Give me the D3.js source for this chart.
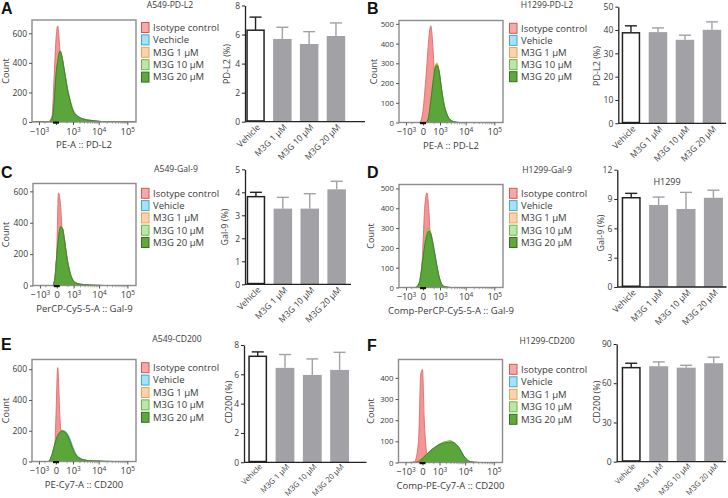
<!DOCTYPE html>
<html><head><meta charset="utf-8">
<script src="https://cdn.jsdelivr.net/npm/d3@7"></script>
<style>body{margin:0;background:#fff}svg{display:block}</style>
</head><body><svg id="c" width="728" height="498"></svg>
<script>
// ---------------- DATA ----------------
const treatments = ["Vehicle", "M3G 1 μM", "M3G 10 μM", "M3G 20 μM"];
const legendLabels = ["Isotype control", "Vehicle", "M3G 1 μM", "M3G 10 μM", "M3G 20 μM"];
const legendLabelsA = ["Isotype control", "Vechicle", "M3G 1 μM", "M3G 10 μM", "M3G 20 μM"];
const histXTicks = [-1000, 0, 1000, 10000, 100000];
const histXTickBase = ["−10", "0", "10", "10", "10"];
const histXTickExp = ["3", "", "3", "4", "5"];
const fluorGrid = [-2000,-700,-300,-130,-50,0,50,130,200,300,420,550,700,900,1150,1400,2000,2900,4000,5800,9500,15000,30000,200000];

// A549 PD-L2 histogram counts
const histA_iso   = [0,0,0,40,330,560,650,480,300,110,25,5,0,0,0,0,0,0,0,0,0,0,0,0];
const histA_veh   = [0,0,0,18,140,305,400,470,450,375,290,215,160,105,68,50,31,20,14,10,5,2,0,0];
const histA_m1    = [0,0,0,20,148,315,408,476,448,372,284,208,153,98,62,46,29,18,13,10,5,2,0,0];
const histA_m10   = [0,0,0,22,155,325,415,485,452,368,278,202,148,93,58,44,27,17,12,9,5,2,0,0];
const histA_m20   = [0,0,0,20,150,320,410,480,450,370,280,205,150,95,60,45,28,18,13,10,5,2,0,0];
// H1299 PD-L2
const histB_iso   = [0,0,0,0,15,60,150,300,420,490,380,200,100,45,18,6,0,0,0,0,0,0,0,0];
const histB_veh   = [0,0,0,0,0,0,0,5,28,105,195,268,292,262,180,115,42,11,3,0,0,0,0,0];
const histB_m1    = [0,0,0,0,0,0,0,6,32,115,210,285,302,265,178,110,40,10,3,0,0,0,0,0];
const histB_m10   = [0,0,0,0,0,0,0,5,30,112,205,278,296,262,176,110,40,10,3,0,0,0,0,0];
const histB_m20   = [0,0,0,0,0,0,0,5,30,110,200,270,290,260,175,110,40,10,3,0,0,0,0,0];
// A549 Gal-9
const histC_iso   = [0,0,0,0,30,220,590,500,300,120,30,5,0,0,0,0,0,0,0,0,0,0,0,0];
const histC_veh   = [0,0,0,0,55,185,295,372,365,295,198,128,76,40,23,15,9,6,4,2,1,0,0,0];
const histC_m1    = [0,0,0,0,58,188,298,374,366,292,194,124,73,37,21,14,8,5,4,2,1,0,0,0];
const histC_m10   = [0,0,0,0,62,192,302,378,364,288,188,118,69,34,20,13,8,5,4,2,1,0,0,0];
const histC_m20   = [0,0,0,0,60,190,300,375,365,290,190,120,70,35,20,13,8,5,4,2,1,0,0,0];
// H1299 Gal-9
const histD_iso   = [0,0,0,3,60,220,400,478,400,200,90,35,8,0,0,0,0,0,0,0,0,0,0,0];
const histD_veh   = [0,0,0,18,75,145,205,262,285,274,228,172,115,58,22,8,2,0,0,0,0,0,0,0];
const histD_m1    = [0,0,0,22,85,160,225,285,300,275,215,160,105,52,19,7,2,0,0,0,0,0,0,0];
const histD_m10   = [0,0,0,22,84,158,222,282,298,272,214,160,106,53,19,7,2,0,0,0,0,0,0,0];
const histD_m20   = [0,0,0,20,80,150,210,265,285,270,220,165,110,55,20,7,2,0,0,0,0,0,0,0];
// A549 CD200
const histE_iso   = [0,0,0,0,40,300,610,280,100,20,3,0,0,0,0,0,0,0,0,0,0,0,0,0];
const histE_veh   = [0,0,0,40,95,135,165,188,200,200,192,175,150,110,70,45,22,11,6,4,3,1,0,0];
const histE_m1    = [0,0,0,44,98,138,172,195,205,198,186,166,137,97,62,41,20,10,6,4,3,1,0,0];
const histE_m10   = [0,0,0,46,102,142,172,192,200,196,184,163,133,94,59,40,20,10,6,4,3,1,0,0];
const histE_m20   = [0,0,0,45,100,140,170,190,198,195,185,165,135,95,60,40,20,10,6,4,3,1,0,0];
// H1299 CD200
const histF_iso   = [0,0,5,100,420,440,210,50,15,5,0,0,0,0,0,0,0,0,0,0,0,0,0,0];
const histF_veh   = [0,0,0,5,11,19,27,37,44,54,62,69,75,82,87,90,93,96,93,74,27,5,0,0];
const histF_m1    = [0,0,0,5,12,20,28,38,46,56,64,71,77,84,89,94,99,102,93,72,25,4,0,0];
const histF_m10   = [0,0,0,5,12,20,28,38,46,56,64,71,77,84,90,95,100,103,93,72,25,4,0,0];
const histF_m20   = [0,0,0,5,12,20,28,38,45,55,63,70,76,83,88,91,94,97,92,72,25,4,0,0];

// bar charts: means and error (upper SD)
const barA_mean = [6.3, 5.7, 5.35, 5.9];   const barA_err = [0.9, 0.8, 0.85, 0.9];
const barB_mean = [38.8, 39.1, 35.8, 40.1]; const barB_err = [3.0, 1.8, 2.0, 3.4];
const barC_mean = [3.81, 3.29, 3.29, 4.13]; const barC_err = [0.19, 0.49, 0.65, 0.35];
const barD_mean = [9.13, 8.39, 7.98, 9.13]; const barD_err = [0.45, 0.81, 1.7, 0.77];
const barE_mean = [7.23, 6.44, 5.96, 6.3];  const barE_err = [0.3, 0.91, 1.09, 1.2];
const barF_mean = [71.9, 73.0, 71.9, 75.3]; const barF_err = [3.4, 3.3, 1.8, 4.6];
const barA_ticks = [0,2,4,6,8];
const barB_ticks = [0,10,20,30,40,50];
const barC_ticks = [0,1,2,3,4,5];
const barD_ticks = [0,3,6,9,12];
const barE_ticks = [0,2,4,6,8];
const barF_ticks = [0,30,60,90];

// ---------------- STYLE ----------------
const FONT = "'Open Sans', 'Noto Sans', sans-serif";
const seriesFill   = ["#f28a8a", "#86d3f0", "#f9c28e", "#a3d98c", "#52a234"];
const seriesStroke = ["#e26a6a", "#3fb0df", "#f0a25a", "#6cbf4a", "#3c7e24"];
const seriesOpac   = [0.9, 0.9, 0.9, 0.9, 0.92];
const legFill   = ["#f6a9a9", "#a9e0f5", "#fcd3ae", "#bfe5aa", "#5fa83e"];
const legStroke = ["#d9534f", "#3aa9da", "#eea055", "#66b845", "#356f1f"];
const barGray = "#a1a1a6";
const textCol = "#3a3a3a";

const svg = d3.select("#c");

function histPanel(o) {
  const g = svg.append("g").attr("font-family", FONT);
  const x = d3.scaleSymlog().constant(350).domain([-2000, 200000]).range([o.x0, o.x0 + o.w]);
  const y = d3.scaleLinear().domain([0, o.yMax]).range([o.y0 + o.h, o.y0]);
  const cid = "clip" + o.id;
  svg.append("clipPath").attr("id", cid).append("rect")
    .attr("x", o.x0).attr("y", o.y0).attr("width", o.w).attr("height", o.h);
  const area = d3.area().x((d, i) => x(fluorGrid[i])).y0(y(0)).y1(d => y(d)).curve(d3.curveMonotoneX);
  const gh = g.append("g").attr("clip-path", `url(#${cid})`);
  o.series.forEach((s, k) => {
    gh.append("path").attr("d", area(s))
      .attr("fill", seriesFill[k]).attr("fill-opacity", seriesOpac[k])
      .attr("stroke", seriesStroke[k]).attr("stroke-width", 0.9);
  });
  g.append("rect").attr("x", o.x0).attr("y", o.y0).attr("width", o.w).attr("height", o.h)
    .attr("fill", "none").attr("stroke", "#8c8c8c").attr("stroke-width", 1.4);
  // y axis
  const gy = g.append("g").attr("transform", `translate(${o.x0},0)`)
    .call(d3.axisLeft(y).tickValues(o.yTicks).tickFormat(d3.format("d")).tickSize(3).tickPadding(2));
  gy.select(".domain").remove();
  gy.selectAll("line").attr("stroke", "#555");
  gy.selectAll("text").attr("font-size", o.yTickSize).attr("fill", textCol).attr("font-family", FONT);
  // x axis
  const gx = g.append("g").attr("transform", `translate(0,${o.y0 + o.h})`)
    .call(d3.axisBottom(x).tickValues(histXTicks).tickFormat("").tickSize(3).tickPadding(3));
  gx.select(".domain").remove();
  gx.selectAll("line").attr("stroke", "#555");
  gx.selectAll(".tick text").attr("font-size", 9.3).attr("fill", textCol).attr("font-family", FONT)
    .each(function (d, i) {
      const t = d3.select(this).text("");
      if (o.hideZero && d === 0) return;
      t.append("tspan").text(histXTickBase[i]);
      if (histXTickExp[i]) t.append("tspan").attr("font-size", 6.5).attr("dy", "-0.45em").text(histXTickExp[i]);
    });
  const minor = [2000,3000,4000,5000,6000,7000,8000,9000,20000,30000,40000,50000,60000,70000,80000,90000,-500,500];
  g.append("g").selectAll("line").data(minor).join("line")
    .attr("x1", d => x(d)).attr("x2", d => x(d))
    .attr("y1", o.y0 + o.h).attr("y2", o.y0 + o.h + 1.8).attr("stroke", "#777").attr("stroke-width", 0.6);
  g.append("rect").attr("x", x(0) - 3).attr("y", o.y0 + o.h - 0.5).attr("width", 6).attr("height", 2.2).attr("fill", "#111");
  g.append("text").attr("x", o.x0 + o.w / 2).attr("y", o.y0 + o.h + 26).attr("text-anchor", "middle")
    .attr("font-size", 9.5).attr("fill", textCol).text(o.xLabel);
  g.append("text").attr("transform", `translate(${o.countX},${o.y0 + o.h / 2}) rotate(-90)`)
    .attr("text-anchor", "middle").attr("dy", "0.35em").attr("font-size", 9).attr("fill", textCol).text("Count");
  // title & letter
  g.append("text").attr("x", o.titleX).attr("y", o.titleY).attr("text-anchor", "middle")
    .attr("font-size", 8.6).attr("fill", textCol).text(o.title);
  g.append("text").attr("x", o.letterX).attr("y", o.letterY).attr("font-size", 16).attr("font-weight", "bold")
    .attr("font-family", "'Liberation Sans', Arial, sans-serif").attr("fill", "#111").text(o.letter);
  // legend
  const lg = g.append("g").selectAll("g").data(o.legend).join("g")
    .attr("transform", (d, i) => `translate(${o.legX},${o.legY + i * o.legStep})`);
  lg.append("rect").attr("x", 0.5).attr("y", -5).attr("width", 7.5).attr("height", 10)
    .attr("fill", (d, i) => legFill[i]).attr("stroke", (d, i) => legStroke[i]).attr("stroke-width", 1);
  lg.append("text").attr("x", 12).attr("y", 0).attr("dy", "0.35em").attr("font-size", 9.5)
    .attr("fill", textCol).text(d => d);
}

function barPanel(o) {
  const g = svg.append("g").attr("font-family", FONT);
  const y = d3.scaleLinear().domain([0, o.yMax]).range([o.yBase, o.yTop]);
  const x = d3.scaleBand().domain(treatments)
    .range([o.barStart, o.barStart + 3 * o.step + o.bw]).paddingInner(1 - o.bw / o.step).paddingOuter(0);
  const bw = x.bandwidth();
  // error bars
  const eb = g.append("g").selectAll("g").data(treatments).join("g");
  eb.append("line").attr("x1", d => x(d) + bw / 2).attr("x2", d => x(d) + bw / 2)
    .attr("y1", (d, i) => y(o.mean[i])).attr("y2", (d, i) => y(o.mean[i] + o.err[i]))
    .attr("stroke", (d, i) => i === 0 ? "#222" : barGray).attr("stroke-width", 1.4);
  eb.append("line").attr("x1", d => x(d) + bw / 2 - 6).attr("x2", d => x(d) + bw / 2 + 6)
    .attr("y1", (d, i) => y(o.mean[i] + o.err[i])).attr("y2", (d, i) => y(o.mean[i] + o.err[i]))
    .attr("stroke", (d, i) => i === 0 ? "#222" : barGray).attr("stroke-width", 1.4);
  // bars
  g.append("g").selectAll("rect").data(treatments).join("rect")
    .attr("x", (d, i) => x(d) + (i === 0 ? 0.75 : 0))
    .attr("width", (d, i) => bw - (i === 0 ? 1.5 : 0))
    .attr("y", (d, i) => y(o.mean[i]))
    .attr("height", (d, i) => o.yBase - y(o.mean[i]) - (i === 0 ? 0.75 : 0))
    .attr("fill", (d, i) => i === 0 ? "#fff" : barGray)
    .attr("stroke", (d, i) => i === 0 ? "#222" : "none").attr("stroke-width", 1.5);
  // y axis
  const gy = g.append("g").attr("transform", `translate(${o.axisX},0)`)
    .call(d3.axisLeft(y).tickValues(o.ticks).tickFormat(d3.format("d")).tickSize(3).tickSizeOuter(0).tickPadding(2));
  gy.select(".domain").attr("stroke", "#222").attr("stroke-width", 1.3);
  gy.selectAll(".tick line").attr("stroke", "#222");
  gy.selectAll("text").attr("font-size", 8.5).attr("fill", textCol).attr("font-family", FONT);
  // baseline
  g.append("line").attr("x1", o.axisX).attr("x2", o.baseEnd).attr("y1", o.yBase).attr("y2", o.yBase)
    .attr("stroke", "#222").attr("stroke-width", 1.3);
  // x labels
  g.append("g").selectAll("text").data(treatments).join("text")
    .attr("transform", d => `translate(${x(d) + bw / 2 + 3},${o.yBase + o.labelOff}) rotate(-45)`)
    .attr("text-anchor", "end").attr("dy", "0.35em").attr("font-size", o.labelSize).attr("fill", textCol).text(d => d);
  // y title
  g.append("text").attr("transform", `translate(${o.titleX},${o.titleY}) rotate(-90)`)
    .attr("text-anchor", "middle").attr("dy", "0.35em").attr("font-size", 9).attr("fill", textCol).text(o.yTitle);
  if (o.topTitle) {
    g.append("text").attr("x", o.topTitleX).attr("y", o.topTitleY).attr("text-anchor", "middle")
      .attr("font-size", 9).attr("fill", textCol).text(o.topTitle);
  }
}

// ---------------- PANELS ----------------
histPanel({id: "A", x0: 32, y0: 20, w: 104, h: 102, yMax: 690, yTicks: [0,200,400,600], yTickSize: 8.5,
  series: [histA_iso, histA_veh, histA_m1, histA_m10, histA_m20], hideZero: true,
  xLabel: "PE-A :: PD-L2", countX: 6, title: "A549-PD-L2", titleX: 170, titleY: 8,
  letter: "A", letterX: 1, letterY: 14, legend: legendLabelsA, legX: 141, legY: 27.5, legStep: 12.4});
histPanel({id: "B", x0: 399, y0: 20.5, w: 104, h: 102, yMax: 517, yTicks: [0,100,200,300,400,500], yTickSize: 7.8,
  series: [histB_iso, histB_veh, histB_m1, histB_m10, histB_m20],
  xLabel: "PE-A :: PD-L2", countX: 374, title: "H1299-PD-L2", titleX: 547, titleY: 8,
  letter: "B", letterX: 367, letterY: 14, legend: legendLabels, legX: 509, legY: 28.3, legStep: 12.1});
histPanel({id: "C", x0: 33, y0: 183.5, w: 103, h: 102, yMax: 650, yTicks: [0,200,400,600], yTickSize: 8.5,
  series: [histC_iso, histC_veh, histC_m1, histC_m10, histC_m20],
  xLabel: "PerCP-Cy5-5-A :: Gal-9", countX: 6, title: "A549-Gal-9", titleX: 176, titleY: 172,
  letter: "C", letterX: 1, letterY: 178, legend: legendLabels, legX: 141, legY: 193.3, legStep: 12.3});
histPanel({id: "D", x0: 399, y0: 184.5, w: 104, h: 103, yMax: 520, yTicks: [0,100,200,300,400,500], yTickSize: 7.8,
  series: [histD_iso, histD_veh, histD_m1, histD_m10, histD_m20],
  xLabel: "Comp-PerCP-Cy5-5-A :: Gal-9", countX: 371, title: "H1299-Gal-9", titleX: 547, titleY: 173,
  letter: "D", letterX: 367, letterY: 178, legend: legendLabels, legX: 509, legY: 193.3, legStep: 12.3});
histPanel({id: "E", x0: 32, y0: 359.5, w: 104, h: 102, yMax: 663, yTicks: [0,200,400,600], yTickSize: 8.5,
  series: [histE_iso, histE_veh, histE_m1, histE_m10, histE_m20],
  xLabel: "PE-Cy7-A :: CD200", countX: 6, title: "A549-CD200", titleX: 177, titleY: 342,
  letter: "E", letterX: 1, letterY: 350, legend: legendLabels, legX: 141, legY: 367.7, legStep: 12.4});
histPanel({id: "F", x0: 398.5, y0: 359.5, w: 104, h: 103, yMax: 487, yTicks: [0,100,200,300,400], yTickSize: 7.8,
  series: [histF_iso, histF_veh, histF_m1, histF_m10, histF_m20],
  xLabel: "Comp-PE-Cy7-A :: CD200", countX: 371, title: "H1299-CD200", titleX: 547, titleY: 344,
  letter: "F", letterX: 367, letterY: 351, legend: legendLabels, legX: 509, legY: 369.3, legStep: 12.5});

barPanel({mean: barA_mean, err: barA_err, ticks: barA_ticks, yMax: 8, yBase: 121.7, yTop: 5.5, labelSize: 8.6, labelOff: 4,
  axisX: 245, barStart: 246.3, step: 26.8, bw: 18.5, baseEnd: 365, yTitle: "PD-L2 (%)", titleX: 227, titleY: 64});
barPanel({mean: barB_mean, err: barB_err, ticks: barB_ticks, yMax: 50, yBase: 123.3, yTop: 6.7, labelSize: 8.6, labelOff: 4,
  axisX: 618.3, barStart: 621.7, step: 27, bw: 18.5, baseEnd: 726, yTitle: "PD-L2 (%)", titleX: 597, titleY: 66});
barPanel({mean: barC_mean, err: barC_err, ticks: barC_ticks, yMax: 5, yBase: 284.3, yTop: 169.3, labelSize: 8.6, labelOff: 4,
  axisX: 245, barStart: 246.7, step: 26.9, bw: 18.5, baseEnd: 351, yTitle: "Gal-9 (%)", titleX: 225, titleY: 227});
barPanel({mean: barD_mean, err: barD_err, ticks: barD_ticks, yMax: 12, yBase: 287, yTop: 169.7, labelSize: 8.6, labelOff: 4,
  axisX: 617.3, barStart: 621.7, step: 27.4, bw: 19, baseEnd: 726.5, yTitle: "Gal-9 (%)", titleX: 601, titleY: 233,
  topTitle: "H1299", topTitleX: 667, topTitleY: 185});
barPanel({mean: barE_mean, err: barE_err, ticks: barE_ticks, yMax: 8, yBase: 462.3, yTop: 345, labelSize: 7.7, labelOff: 3,
  axisX: 244, barStart: 248.3, step: 27.3, bw: 18.8, baseEnd: 366.5, yTitle: "CD200 (%)", titleX: 229, titleY: 402});
barPanel({mean: barF_mean, err: barF_err, ticks: barF_ticks, yMax: 90, yBase: 461.7, yTop: 344, labelSize: 7.7, labelOff: 3,
  axisX: 616.7, barStart: 621.7, step: 27.5, bw: 19, baseEnd: 726, yTitle: "CD200 (%)", titleX: 597, titleY: 402});
</script></body></html>
